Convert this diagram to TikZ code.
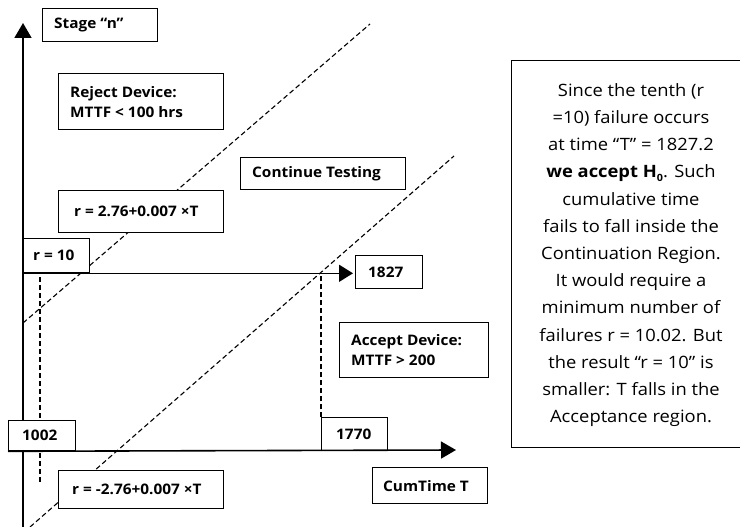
\documentclass[tikz,border=0pt]{standalone}
\usepackage{fontspec}
\setmainfont{Open Sans}
\newfontfamily\lblfont{Open Sans}[FakeStretch=1.06]
\newfontfamily\notefont{Open Sans}[FakeStretch=1.08]
\usetikzlibrary{arrows.meta,calc}
\begin{document}
\begin{tikzpicture}[x=1pt,y=-1pt,
  box/.style={draw, line width=1.3pt, fill=white, anchor=north west, inner sep=0pt},
  lbl/.style={anchor=west, inner sep=0pt, font=\lblfont\bfseries\fontsize{14.5}{20}\selectfont, align=left},
  axis/.style={line width=1.6pt},
  guide/.style={line width=1.1pt, dash pattern=on 5pt off 3pt},
  tip/.style={-{Triangle[length=15pt,width=17pt]}}
]
\useasboundingbox (0,0) rectangle (740,527);

% reference points of the axes and boundary lines
\coordinate (ybot) at (23,527);
\coordinate (ytop) at (23,23);
\coordinate (xend) at (456,450);
\coordinate (upA) at (23,323);
\coordinate (upB) at (370,24);
\coordinate (loA) at (30,527);
\coordinate (loB) at (454,156);
\coordinate (v1a) at (40,277);
\coordinate (v1b) at (40,484);

% decision boundaries (drawn first, boxes cover them)
\draw[guide] (upA) -- (upB);
\draw[guide] (loA) -- (loB);
\draw[guide] (v1a) -- (v1b);

% vertical axis
\draw[axis, tip] (ybot) -- (ytop);

% boxes
\node[box, minimum width=115pt, minimum height=33pt] (stage) at (42,8) {};
\node[box, minimum width=165pt, minimum height=56pt] (reject) at (58,73) {};
\node[box, minimum width=165pt, minimum height=42pt] (rup) at (58,190) {};
\node[box, minimum width=165pt, minimum height=32pt] (cont) at (240,157) {};
\node[box, minimum width=66pt, minimum height=34pt] (r10) at (23,238) {};
\node[box, minimum width=67pt, minimum height=33pt] (n1827) at (355,255) {};
\node[box, minimum width=149pt, minimum height=55pt] (accept) at (339,322) {};
\node[box, minimum width=66pt, minimum height=33pt] (n1770) at (321,417) {};
\node[box, minimum width=67pt, minimum height=30pt] (n1002) at (8,420) {};
\node[box, minimum width=115pt, minimum height=36pt] (cum) at (372,467) {};
\node[box, minimum width=165pt, minimum height=38pt] (rlo) at (58,470) {};

% box labels
\node[lbl] (stage-t) at ([xshift=12pt]stage.west) {Stage “n”};
\node[lbl] (reject-t) at ([xshift=12pt]reject.west) {Reject Device:\\MTTF < 100 hrs};
\node[lbl] (rup-t) at ([xshift=16pt]rup.west) {r = 2.76+0.007 ×T};
\node[lbl] (cont-t) at ([xshift=12pt]cont.west) {Continue Testing};
\node[lbl] (r10-t) at ([xshift=10pt]r10.west) {r = 10};
\node[lbl] (n1827-t) at ([xshift=13pt]n1827.west) {1827};
\node[lbl] (accept-t) at ([xshift=12pt]accept.west) {Accept Device:\\MTTF > 200};
\node[lbl] (n1770-t) at ([xshift=15pt]n1770.west) {1770};
\node[lbl] (n1002-t) at ([xshift=14pt]n1002.west) {1002};
\node[lbl] (cum-t) at ([xshift=11pt]cum.west) {CumTime T};
\node[lbl] (rlo-t) at ([xshift=14pt]rlo.west) {r = -2.76+0.007 ×T};

% r = 10 level and the time where it meets the lower boundary
\draw[axis, -{Triangle[length=14pt,width=17pt]}] (r10.south west) -- ([xshift=-2pt]n1827.west |- r10.south);
\draw[guide] (n1770.north west) -- (n1770.north west |- r10.south);

% horizontal axis
\draw[axis, tip] (n1002.south west) -- (xend);

% explanation
\node[draw, line width=1.3pt, anchor=north west, minimum width=241pt, minimum height=387pt] (note) at (511,60) {};
\node[inner sep=0pt, align=center, font=\notefont\fontsize{17}{27.2}\selectfont] (note-t) at (631,255)
{Since the tenth (r\\=10) failure occurs\\at time “T” = 1827.2\\\textbf{we accept H\raisebox{-0.35ex}{\fontsize{10}{10}\selectfont 0}}. Such\\cumulative time\\fails to fall inside the\\Continuation Region.\\It would require a\\minimum number of\\failures r = 10.02. But\\the result “r = 10” is\\smaller: T falls in the\\Acceptance region.};
\end{tikzpicture}
\end{document}
